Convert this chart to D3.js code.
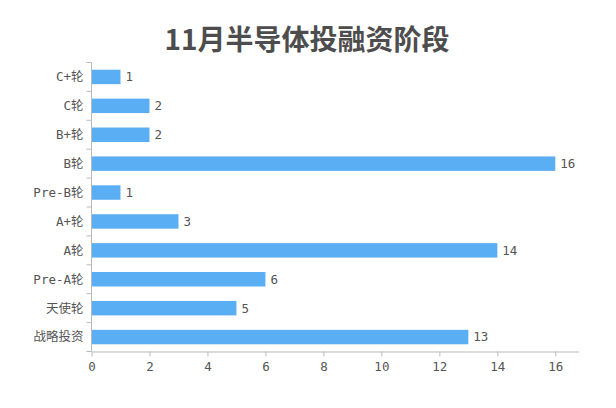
<!DOCTYPE html>
<html>
<head>
<meta charset="utf-8">
<script src="https://cdn.jsdelivr.net/npm/d3@7"></script>
<style>
  body { margin: 0; background: #fff; }
  .axis text { font-family: "DejaVu Sans Mono", "Noto Sans CJK SC", monospace; font-size: 12.5px; fill: #555; }
  .axis path, .axis line { stroke: #bbb; }
</style>
</head>
<body>
<div id="chart"></div>
<script>
const w = 616;
const h = 408;

const title = "11月半导体投融资阶段";
const stages = ["C+轮", "C轮", "B+轮", "B轮", "Pre-B轮", "A+轮", "A轮", "Pre-A轮", "天使轮", "战略投资"];
const counts = [1, 2, 2, 16, 1, 3, 14, 6, 5, 13];
const xTicks = [0, 2, 4, 6, 8, 10, 12, 14, 16];

const padL = 91.5, padR = 578.5, padT = 62.5, padB = 351.5;

const svg = d3.select("#chart").append("svg").attr("width", w).attr("height", h);

svg.append("text")
  .attr("x", 307)
  .attr("y", 50)
  .attr("text-anchor", "middle")
  .style("font-family", "'Noto Sans CJK SC', sans-serif")
  .style("font-size", "28px")
  .style("font-weight", "bold")
  .style("fill", "#4d4d4d")
  .text(title);

const xScale = d3.scaleLinear().domain([0, 16.8]).range([padL, padR]);
const yScale = d3.scaleBand().domain(stages).range([padT, padB]).paddingInner(0.5).paddingOuter(0.25);
const yLine = d3.scaleBand().domain(stages).range([padT, padB]);

// bars
svg.selectAll("rect.bar")
  .data(stages)
  .enter()
  .append("rect")
  .attr("class", "bar")
  .attr("x", xScale(0))
  .attr("y", d => yScale(d))
  .attr("width", (d, i) => xScale(counts[i]) - xScale(0))
  .attr("height", yScale.bandwidth())
  .attr("fill", "#5aaef3");

svg.selectAll("text.val")
  .data(stages)
  .enter()
  .append("text")
  .attr("class", "val")
  .attr("x", (d, i) => xScale(counts[i]) + 5)
  .attr("y", d => yScale(d) + yScale.bandwidth() / 2)
  .attr("dy", "0.35em")
  .style("font-family", "'DejaVu Sans Mono', monospace")
  .style("font-size", "12.5px")
  .style("fill", "#555")
  .text((d, i) => counts[i]);

// x axis
const xAxis = d3.axisBottom(xScale).tickValues(xTicks).tickSizeInner(5).tickSizeOuter(0).tickPadding(6);
svg.append("g")
  .attr("class", "axis")
  .attr("transform", "translate(0," + padB + ")")
  .call(xAxis);

// y axis: ticks at band boundaries
const yg = svg.append("g").attr("class", "axis").attr("transform", "translate(" + padL + ",0)");
yg.append("line").attr("x1", 0).attr("x2", 0).attr("y1", padT).attr("y2", padB).attr("stroke", "#bbb");
const bounds = stages.map(d => yLine(d)).concat([padB]);
yg.selectAll("line.tk")
  .data(bounds)
  .enter()
  .append("line")
  .attr("class", "tk")
  .attr("x1", -5).attr("x2", 0)
  .attr("y1", d => d).attr("y2", d => d);
yg.selectAll("text")
  .data(stages)
  .enter()
  .append("text")
  .attr("x", -8)
  .attr("y", d => yLine(d) + yLine.bandwidth() / 2)
  .attr("dy", "0.35em")
  .attr("text-anchor", "end")
  .text(d => d);
</script>
</body>
</html>
